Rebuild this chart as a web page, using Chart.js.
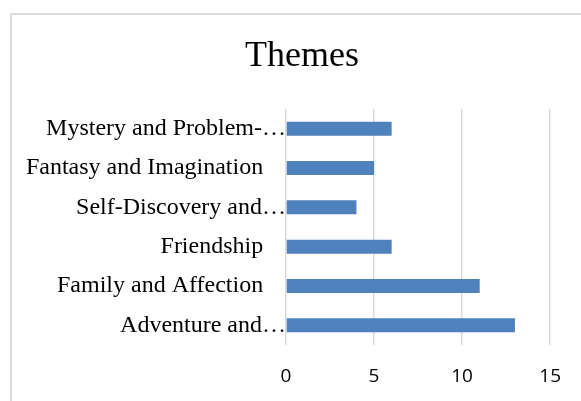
<!DOCTYPE html>
<html>
<head>
<meta charset="utf-8">
<script src="https://cdn.jsdelivr.net/npm/chart.js"></script>
<style>
  html, body { margin: 0; padding: 0; background: #fff; overflow: hidden; }
  #wrap { position: relative; width: 581px; height: 401px; }
  #chart { position: absolute; left: 0; top: 0; }
  #frame {
    position: absolute; left: 10px; top: 13px; width: 600px; height: 420px;
    border: 2px solid #dcdcdc; pointer-events: none;
  }
  #title {
    position: absolute; left: 202px; top: 36px; width: 200px;
    text-align: center; color: #000;
    font: 36px/36px "Liberation Serif", "Times New Roman", serif;
  }
</style>
</head>
<body>
<div id="wrap">
  <canvas id="chart" width="581" height="401"></canvas>
  <div id="title"></div>
  <div id="frame"></div>
</div>
<script>
// === data ===
const chartTitle = "Themes";
const themes = [
  "Mystery and Problem-\u2026",
  "Fantasy and Imagination   \u2009",
  "Self-Discovery and\u2026",
  "Friendship   \u2009",
  "Family and Affection   \u2009",
  "Adventure and\u2026",
];
const counts = [6, 5, 4, 6, 11, 13];
const xTicks = [0, 5, 10, 15];

const barBlue = "#4f81bd";
const gridGrey = "#d9d9d9";

// titel staat los boven het canvas, zodat hij net als in het origineel iets rechts van het midden staat
document.getElementById("title").textContent = chartTitle;

// === chart ===
new Chart(document.getElementById("chart"), {
  type: "bar",
  data: {
    labels: themes,
    datasets: [{
      data: counts,
      backgroundColor: barBlue,
      borderWidth: 0,
      categoryPercentage: 1,
      barPercentage: 0.355,
    }],
  },
  options: {
    indexAxis: "y",
    responsive: false,
    animation: false,
    layout: { padding: { left: 0, right: 29, top: 109, bottom: 0 } },
    plugins: {
      legend: { display: false },
      tooltip: { enabled: false },
      title: { display: false },
    },
    scales: {
      x: {
        min: xTicks[0],
        max: xTicks[xTicks.length - 1],
        afterBuildTicks: (scale) => { scale.ticks = xTicks.map((v) => ({ value: v })); },
        afterFit: (scale) => { scale.height = 56; },
        grid: { color: gridGrey, lineWidth: 1.5, drawTicks: false },
        border: { display: false },
        ticks: {
          padding: 20,
          color: "#000",
          font: { family: "'Open Sans', sans-serif", size: 19 },
        },
      },
      y: {
        afterFit: (scale) => { scale.width = 286; },
        grid: { display: false, drawTicks: false },
        border: { display: false },
        ticks: {
          padding: 0,
          color: "#000",
          font: { family: "'Liberation Serif', 'Times New Roman', serif", size: 24 },
        },
      },
    },
  },
});
</script>
</body>
</html>
